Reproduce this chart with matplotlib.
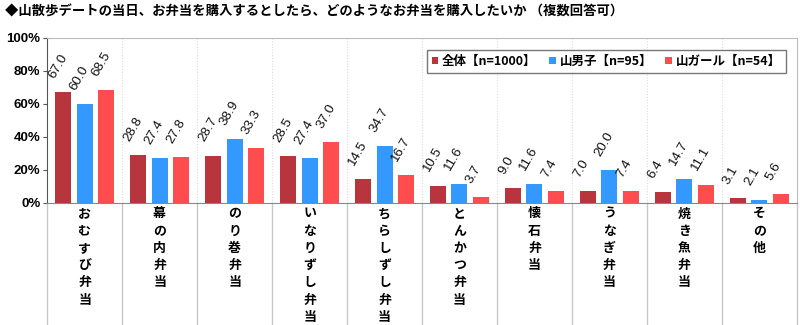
import numpy as np
import matplotlib.pyplot as plt
from matplotlib.lines import Line2D

plt.rcParams['font.family'] = ['Noto Sans CJK JP', 'DejaVu Sans']

# ================ データ ================
categories = ['おむすび弁当', '幕の内弁当', 'のり巻弁当', 'いなりずし弁当', 'ちらしずし弁当',
              'とんかつ弁当', '懐石弁当', 'うなぎ弁当', '焼き魚弁当', 'その他']
series_names = ['全体【n=1000】', '山男子【n=95】', '山ガール【n=54】']
all_vals = [67.0, 28.8, 28.7, 28.5, 14.5, 10.5, 9.0, 7.0, 6.4, 3.1]
men_vals = [60.0, 27.4, 38.9, 27.4, 34.7, 11.6, 11.6, 20.0, 14.7, 2.1]
girl_vals = [68.5, 27.8, 33.3, 37.0, 16.7, 3.7, 7.4, 7.4, 11.1, 5.6]
yticks = [0, 20, 40, 60, 80, 100]

colors = ['#B8353D', '#3399FF', '#FF4D4F']
title = '◆山散歩デートの当日、お弁当を購入するとしたら、どのようなお弁当を購入したいか （複数回答可）'

# ================ 描画 ================
fig = plt.figure(figsize=(8, 3.25), dpi=100)
ax = fig.add_axes([0.059, 0.3754, 0.937, 0.508])

x = np.arange(len(categories))
width = 0.213
step = 0.287
for k, (vals, c, name) in enumerate(zip([all_vals, men_vals, girl_vals], colors, series_names)):
    pos = x + (k - 1) * step
    ax.bar(pos, vals, width=width, color=c, label=name, zorder=3)
    for px, v in zip(pos, vals):
        ax.annotate(f'{v:.1f}', xy=(px, v), xytext=(-6.5, 9.5), textcoords='offset points',
                    rotation=60, rotation_mode='anchor', ha='left', va='baseline',
                    fontsize=9.6, family='Liberation Sans', color='#111111')

ax.set_xlim(-0.5, len(categories) - 0.5)
ax.set_ylim(0, 100)
ax.set_yticks(yticks)
ax.set_yticklabels([f'{t}%' for t in yticks], fontsize=9.5, family='Liberation Sans',
                   fontweight='bold')
ax.tick_params(axis='y', length=3, color='#555555', pad=2)
ax.set_xticks([])

# 枠線
for side in ['top', 'right', 'bottom']:
    ax.spines[side].set_color('#BBBBBB')
ax.spines['left'].set_color('#555555')
ax.spines['bottom'].set_color('#888888')

# カテゴリ区切り線（グラフ内は点線、下は実線）
for b in np.arange(0.5, len(categories) - 0.5, 1):
    ax.axvline(b, color='#DDDDDD', linestyle=(0, (1, 1.5)), linewidth=0.8, zorder=1)
for b in np.arange(-0.5, len(categories), 1):
    ax.add_line(Line2D([b, b], [0, -0.74], transform=ax.get_xaxis_transform(),
                       color='#C8C8C8', linewidth=1.0, clip_on=False))

# 縦書きのカテゴリラベル
for i, cat in enumerate(categories):
    for j, ch in enumerate(cat):
        ax.annotate(ch, xy=(i, 0), xycoords=('data', 'axes fraction'),
                    xytext=(0, -7.5 - 12.4 * j), textcoords='offset points',
                    ha='center', va='center', fontsize=9.3, fontweight='bold')

leg = ax.legend(loc='upper right', bbox_to_anchor=(0.9935, 0.965), ncol=3, frameon=True,
                fancybox=False, handlelength=0.55, handleheight=0.55, handletextpad=0.3,
                columnspacing=1.0, borderpad=0.4, prop={'size': 9.0, 'weight': 'bold'})
leg.get_frame().set_edgecolor('#555555')
leg.get_frame().set_linewidth(1.0)

fig.text(0.006, 0.963, title, fontsize=9.6, fontweight='bold', va='center', ha='left')

fig.savefig('out.png', dpi=100)
